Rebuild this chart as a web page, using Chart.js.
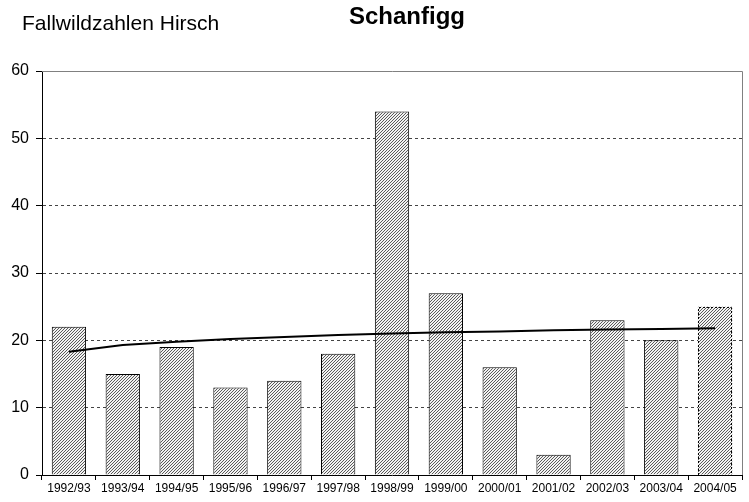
<!DOCTYPE html>
<html>
<head>
<meta charset="utf-8">
<script src="https://cdn.jsdelivr.net/npm/chart.js@4/dist/chart.umd.min.js"></script>
<style>
  html, body { margin: 0; padding: 0; background: #fff; }
  #wrap { width: 749px; height: 502px; }
</style>
</head>
<body>
<div id="wrap"><canvas id="chart" width="749" height="502"></canvas></div>
<script>
// seasons and fallen deer counts
const seasons = ['1992/93', '1993/94', '1994/95', '1995/96', '1996/97', '1997/98', '1998/99',
                 '1999/00', '2000/01', '2001/02', '2002/03', '2003/04', '2004/05']
const fallwild = [22, 15, 19, 13, 14, 18, 54, 27, 16, 3, 23, 20, 25]
// logarithmic trend line, read per season
const trend = [18.3, 19.3, 19.8, 20.2, 20.5, 20.8, 21.0, 21.2, 21.3, 21.5, 21.6, 21.7, 21.8]
const yTicks = [0, 10, 20, 30, 40, 50, 60]

const FONT = '"Liberation Sans", Arial, sans-serif'

function hatch() {
    var c = document.createElement('canvas')
    c.width = 3
    c.height = 3
    var g = c.getContext('2d')
    g.fillStyle = '#f2f2f2'
    g.fillRect(0, 0, 3, 3)
    g.fillStyle = '#5a5a5a'
    g.fillRect(0, 2, 1, 1)
    g.fillRect(1, 1, 1, 1)
    g.fillRect(2, 0, 1, 1)
    return g.createPattern(c, 'repeat')
}

const decor = {
    id: 'decor',
    beforeDraw(chart) {
        var ctx = chart.ctx
        ctx.save()
        ctx.fillStyle = '#000'
        ctx.textBaseline = 'alphabetic'
        ctx.font = '21px ' + FONT
        ctx.textAlign = 'left'
        ctx.fillText('Fallwildzahlen Hirsch', 22, 30)
        ctx.font = 'bold 24px ' + FONT
        ctx.textAlign = 'center'
        ctx.fillText('Schanfigg', 407, 24)
        ctx.restore()
    },
    afterDraw(chart) {
        var ctx = chart.ctx
        var a = chart.chartArea
        ctx.save()
        ctx.strokeStyle = '#808080'
        ctx.lineWidth = 1
        ctx.beginPath()
        ctx.moveTo(a.left, a.top + 0.5)
        ctx.lineTo(a.right + 0.5, a.top + 0.5)
        ctx.lineTo(a.right + 0.5, a.bottom)
        ctx.stroke()
        ctx.restore()
    },
    afterDatasetsDraw(chart) {
        // last season drawn with a dashed outline
        var bar = chart.getDatasetMeta(1).data[fallwild.length - 1]
        var ctx = chart.ctx
        ctx.save()
        ctx.strokeStyle = '#000'
        ctx.lineWidth = 1
        ctx.setLineDash([2, 2])
        var x0 = Math.round(bar.x - bar.width / 2) + 0.5
        var x1 = Math.round(bar.x + bar.width / 2) - 0.5
        var y0 = Math.round(bar.y) + 0.5
        var y1 = Math.round(bar.base)
        ctx.beginPath()
        ctx.moveTo(x0, y1)
        ctx.lineTo(x0, y0)
        ctx.lineTo(x1, y0)
        ctx.lineTo(x1, y1)
        ctx.stroke()
        ctx.restore()
    }
}

new Chart(document.getElementById('chart'), {
    data: {
        labels: seasons,
        datasets: [
            {
                type: 'line',
                data: trend,
                borderColor: '#000',
                borderWidth: 2,
                pointRadius: 0,
                tension: 0,
                fill: false,
                order: 0,
            },
            {
                type: 'bar',
                data: fallwild,
                backgroundColor: hatch(),
                borderColor: '#000',
                borderWidth: fallwild.map((v, i) => i == fallwild.length - 1 ? 0 : 1),
                borderSkipped: 'bottom',
                barPercentage: 0.637,
                categoryPercentage: 1.0,
                order: 1,
            },
        ]
    },
    options: {
        responsive: false,
        animation: false,
        layout: { padding: { top: 71, right: 7, left: 0, bottom: 0 } },
        plugins: {
            legend: { display: false },
            tooltip: { enabled: false },
        },
        scales: {
            x: {
                offset: true,
                afterFit: (axis) => { axis.height = 27 },
                grid: {
                    offset: true,
                    drawOnChartArea: false,
                    drawTicks: true,
                    tickLength: 5,
                    color: '#000',
                },
                border: { color: '#000', width: 1 },
                ticks: {
                    color: '#000',
                    font: { family: FONT, size: 12 },
                    maxRotation: 0,
                    autoSkip: false,
                    padding: 1,
                },
            },
            y: {
                min: 0,
                max: 60,
                afterFit: (axis) => { axis.width = 42 },
                afterBuildTicks: (axis) => { axis.ticks = yTicks.map(v => ({ value: v })) },
                grid: {
                    color: (c) => (c.tick && c.tick.value > 0 && c.tick.value < 60) ? '#444' : 'rgba(0,0,0,0)',
                    tickColor: '#000',
                    tickLength: 6,
                    drawTicks: true,
                    lineWidth: 1,
                },
                border: { color: '#000', width: 1, dash: [3, 3] },
                ticks: {
                    color: '#000',
                    font: { family: FONT, size: 16 },
                    padding: 7,
                },
            },
        },
    },
    plugins: [decor],
})
</script>
</body>
</html>
